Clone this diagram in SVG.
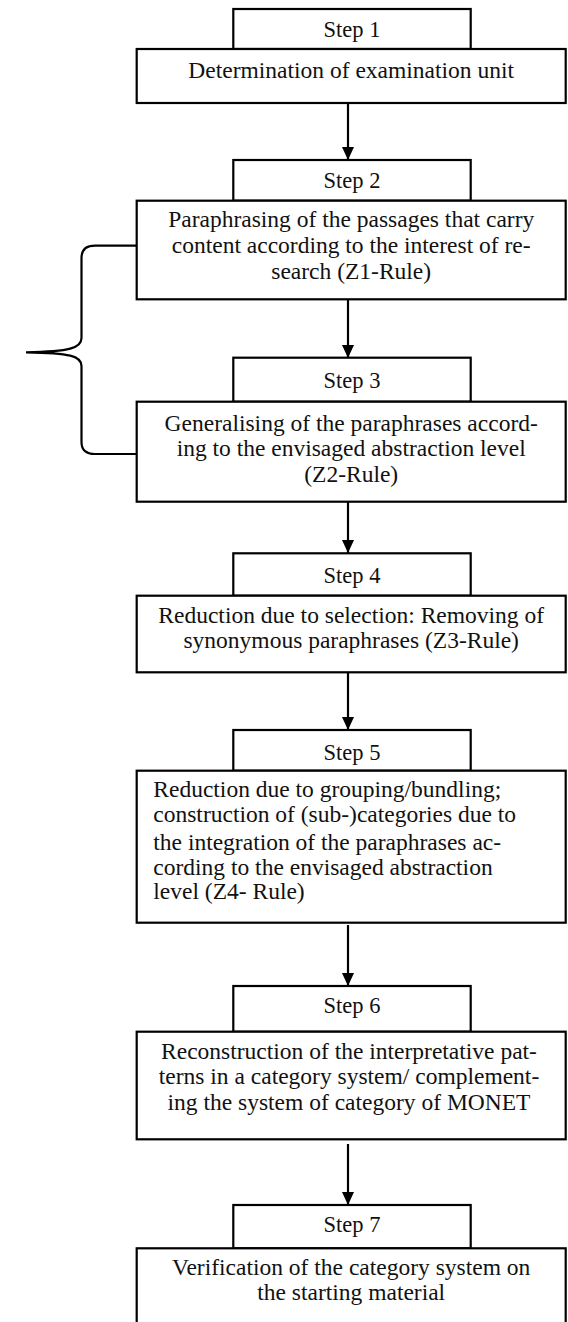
<svg xmlns="http://www.w3.org/2000/svg" width="568" height="1322" viewBox="0 0 568 1322">
<style>
.box{fill:#fff;stroke:#000;stroke-width:2.2}
.t{font-family:"Liberation Serif","Times New Roman",serif;font-size:23.5px;fill:#111}
.s{font-family:"Liberation Serif","Times New Roman",serif;font-size:22.5px;fill:#111;text-anchor:middle}
.c{text-anchor:middle}
.ln{stroke:#000;stroke-width:2.2;fill:none}
</style>
<defs>
<marker id="ah" markerWidth="13" markerHeight="12" refX="13" refY="6" orient="auto" markerUnits="userSpaceOnUse">
<path d="M0,0 L13,6 L0,12 Z" fill="#000"/>
</marker>
</defs>
<rect width="568" height="1322" fill="#fff"/>
<g id="connectors">
<line class="ln" x1="348" y1="103" x2="348" y2="160" marker-end="url(#ah)"/>
<line class="ln" x1="348" y1="299" x2="348" y2="358" marker-end="url(#ah)"/>
<line class="ln" x1="348" y1="502" x2="348" y2="553" marker-end="url(#ah)"/>
<line class="ln" x1="348" y1="672" x2="348" y2="730" marker-end="url(#ah)"/>
<line class="ln" x1="348" y1="925" x2="348" y2="986" marker-end="url(#ah)"/>
<line class="ln" x1="348" y1="1144" x2="348" y2="1205" marker-end="url(#ah)"/>
<path id="brace" class="ln" d="M136.7,245.7 L95,245.7 Q81.5,245.7 81.5,258 L81.5,338 C81.5,348 70,351.5 26,352.3 C70,353 81.5,356 81.5,366 L81.5,442 Q81.5,454 95,454 L136.7,454"/>
</g>
<g id="step1">
<rect class="box" x="233.3" y="9" width="237.4" height="40"/>
<text class="s" x="352" y="36.7">Step 1</text>
</g>
<g id="node1">
<rect class="box" x="136.7" y="49" width="429" height="54"/>
<text class="t c" x="351.2" y="78.3">Determination of examination unit</text>
</g>
<g id="step2">
<rect class="box" x="233.3" y="160" width="237.4" height="40.7"/>
<text class="s" x="352" y="188.3">Step 2</text>
</g>
<g id="node2">
<rect class="box" x="136.7" y="200.7" width="429" height="98.6"/>
<text class="t c" x="351.2" y="227">Paraphrasing of the passages that carry</text>
<text class="t c" x="351.2" y="253">content according to the interest of re-</text>
<text class="t c" x="351.2" y="279">search (Z1-Rule)</text>
</g>
<g id="step3">
<rect class="box" x="233.3" y="357.7" width="237.4" height="44"/>
<text class="s" x="352" y="387.5">Step 3</text>
</g>
<g id="node3">
<rect class="box" x="136.7" y="401.7" width="429" height="100"/>
<text class="t c" x="351.2" y="430.5">Generalising of the paraphrases accord-</text>
<text class="t c" x="351.2" y="455.5">ing to the envisaged abstraction level</text>
<text class="t c" x="351.2" y="482">(Z2-Rule)</text>
</g>
<g id="step4">
<rect class="box" x="233.3" y="553.3" width="237.4" height="42.4"/>
<text class="s" x="352" y="583.3">Step 4</text>
</g>
<g id="node4">
<rect class="box" x="136.7" y="595.7" width="429" height="76.6"/>
<text class="t c" x="351.2" y="623.3">Reduction due to selection: Removing of</text>
<text class="t c" x="351.2" y="648.3">synonymous paraphrases (Z3-Rule)</text>
</g>
<g id="step5">
<rect class="box" x="233.3" y="730" width="237.4" height="40.7"/>
<text class="s" x="352" y="760">Step 5</text>
</g>
<g id="node5">
<rect class="box" x="136.7" y="770.7" width="429" height="152"/>
<text class="t" x="153.3" y="796.7">Reduction due to grouping/bundling;</text>
<text class="t" x="153.3" y="822">construction of (sub-)categories due to</text>
<text class="t" x="153.3" y="849.5">the integration of the paraphrases ac-</text>
<text class="t" x="153.3" y="875">cording to the envisaged abstraction</text>
<text class="t" x="153.3" y="898.5">level (Z4- Rule)</text>
</g>
<g id="step6">
<rect class="box" x="233.3" y="986" width="237.4" height="45.7"/>
<text class="s" x="352" y="1013.3">Step 6</text>
</g>
<g id="node6">
<rect class="box" x="136.7" y="1031.7" width="429" height="107.6"/>
<text class="t c" x="349" y="1059.3">Reconstruction of the interpretative pat-</text>
<text class="t c" x="349" y="1084">terns in a category system/ complement-</text>
<text class="t c" x="349" y="1110">ing the system of category of MONET</text>
</g>
<g id="step7">
<rect class="box" x="233.3" y="1205" width="237.4" height="43.3"/>
<text class="s" x="352" y="1231.7">Step 7</text>
</g>
<g id="node7">
<rect class="box" x="136.7" y="1248.3" width="429" height="90"/>
<text class="t c" x="351.2" y="1274.5">Verification of the category system on</text>
<text class="t c" x="351.2" y="1300">the starting material</text>
</g>
</svg>
